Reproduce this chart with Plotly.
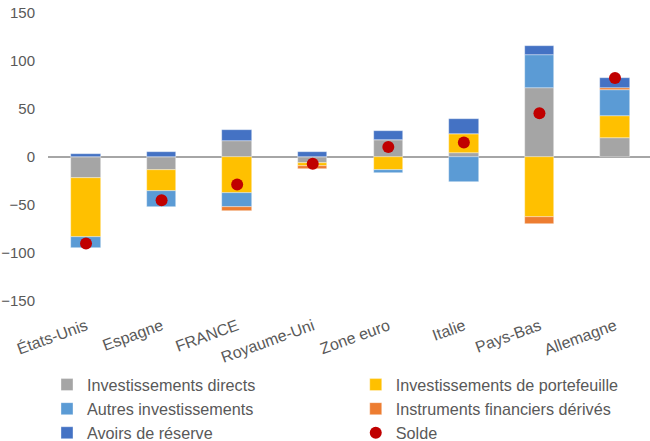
import plotly.graph_objects as go

categories = ["États-Unis", "Espagne", "FRANCE", "Royaume-Uni", "Zone euro", "Italie", "Pays-Bas", "Allemagne"]

inv_directs = [-22, -14, 16.3, -6, 17.4, 4, 72.3, 19.8]
inv_portefeuille = [-61.5, -21, -37, -3, -13.5, 20, -62.5, 22.6]
autres_inv = [-11.5, -17.4, -14.6, 0, -3.5, -26, 34.4, 27.8]
derives = [0, 0, -4.9, -3.5, 0, 0, -7, 1.4]
avoirs_reserve = [3.5, 5.5, 12.2, 5.5, 9.7, 16, 8.7, 10.4]
solde = [-90, -45, -28.7, -7, 10.4, 15, 45.5, 82.3]

series = [
    ("Investissements directs", inv_directs, "#A5A5A5", "legend"),
    ("Investissements de portefeuille", inv_portefeuille, "#FFC000", "legend2"),
    ("Autres investissements", autres_inv, "#5B9BD5", "legend"),
    ("Instruments financiers dérivés", derives, "#ED7D31", "legend2"),
    ("Avoirs de réserve", avoirs_reserve, "#4472C4", "legend"),
]

FONT = "Liberation Sans, Arial, sans-serif"
TXT = "#595959"

fig = go.Figure()
for name, vals, col, lg in series:
    fig.add_trace(go.Bar(
        x=categories, y=vals, name=name, width=0.39, legend=lg,
        marker=dict(color=col, line=dict(color="rgba(255,255,255,0.6)", width=0.6)),
    ))

fig.add_trace(go.Scatter(
    x=categories, y=solde, name="Solde", mode="markers", legend="legend2",
    marker=dict(color="#C00000", size=12, symbol="circle"),
))

leg_common = dict(
    orientation="v",
    xref="container", yref="container",
    xanchor="left", yanchor="top",
    font=dict(family=FONT, size=16.2, color=TXT),
    bgcolor="rgba(0,0,0,0)",
    traceorder="normal",
)

fig.update_layout(
    width=650, height=441,
    margin=dict(l=48, r=0, t=13, b=140, autoexpand=False),
    barmode="relative",
    bargap=0,
    plot_bgcolor="white", paper_bgcolor="white",
    font=dict(family=FONT, size=15, color=TXT),
    showlegend=True,
    legend=dict(x=0.0723, y=0.1665, **leg_common),
    legend2=dict(x=0.5473, y=0.1665, **leg_common),
)

fig.update_xaxes(
    type="category",
    range=[-0.503, 7.463],
    automargin=False,
    showgrid=False, showline=False, zeroline=False,
    tickangle=-20,
    ticks="",
    ticklabelstandoff=12,
    tickfont=dict(family=FONT, size=16, color=TXT),
)
fig.update_yaxes(
    range=[-150, 150],
    tickvals=[-150, -100, -50, 0, 50, 100, 150],
    automargin=False,
    showgrid=False, showline=False,
    zeroline=True, zerolinecolor="#A6A6A6", zerolinewidth=2,
    ticks="",
    ticklabelstandoff=12,
    tickfont=dict(family=FONT, size=15, color=TXT),
)

fig.write_html("out.html", config={"displayModeBar": False},
               post_script="document.body.style.margin='0';")
